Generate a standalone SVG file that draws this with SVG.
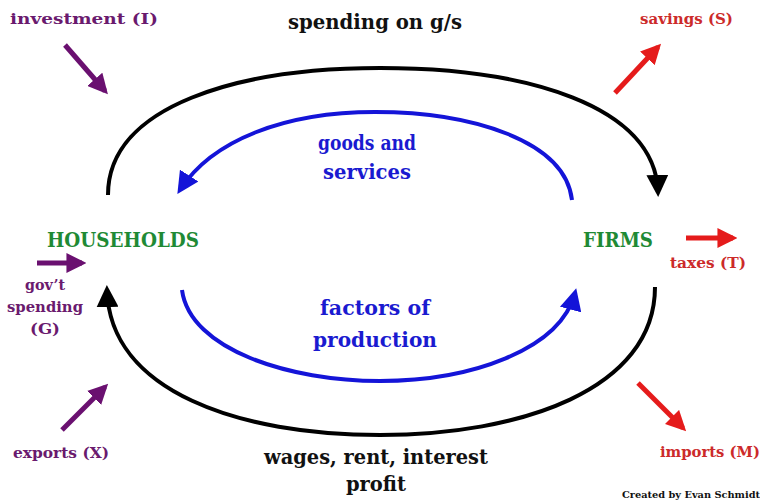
<svg xmlns="http://www.w3.org/2000/svg" width="760" height="503" viewBox="0 0 760 503">
<style>
text{font-family:"DejaVu Serif","Liberation Serif",serif;font-weight:bold}
.lbl{font-size:19.5px;fill:#111}
.node{font-size:19.5px;fill:#1f8a35}
.blue{font-size:19.5px;fill:#1a1ad0}
.pur{font-size:15px;fill:#6a1a6e}
.red{font-size:15px;fill:#cc2a2a}
.blk{fill:none;stroke:#000;stroke-width:4}
.bl{fill:none;stroke:#1414d8;stroke-width:4}
.pa{stroke:#6a1070;stroke-width:5}
.ra{stroke:#e51b1b;stroke-width:5}
</style>
<defs>
<marker id="mk" markerUnits="userSpaceOnUse" markerWidth="22" markerHeight="22" refX="14" refY="9" orient="auto" viewBox="0 0 18 18"><path d="M0,0 L18,9 L0,18 z" fill="#000"/></marker>
<marker id="mb" markerUnits="userSpaceOnUse" markerWidth="22" markerHeight="22" refX="14" refY="9" orient="auto" viewBox="0 0 18 18"><path d="M0,0 L18,9 L0,18 z" fill="#1414d8"/></marker>
<marker id="mp" markerUnits="userSpaceOnUse" markerWidth="20" markerHeight="20" refX="14" refY="9" orient="auto" viewBox="0 0 18 18"><path d="M0,0 L18,9 L0,18 z" fill="#6a1070"/></marker>
<marker id="mr" markerUnits="userSpaceOnUse" markerWidth="20" markerHeight="20" refX="14" refY="9" orient="auto" viewBox="0 0 18 18"><path d="M0,0 L18,9 L0,18 z" fill="#e51b1b"/></marker>
</defs>
<rect width="760" height="503" fill="#fff"/>
<g id="connectors">
<path class="blk" d="M108,195 C108,105 240,68 380,68 C525,68 655,105 658,192" marker-end="url(#mk)"/>
<path class="blk" d="M655,287 C655,390 520,435 380,435 C240,435 110,392 107,290" marker-end="url(#mk)"/>
<path class="bl" d="M572,200 C565,140 470,112 375,112 C285,112 212,140 180,190" marker-end="url(#mb)"/>
<path class="bl" d="M182,290 C190,350 290,381 380,381 C470,381 560,350 575,293" marker-end="url(#mb)"/>
<line class="pa" x1="65" y1="45" x2="105" y2="91" marker-end="url(#mp)"/>
<line class="pa" x1="37" y1="263" x2="82" y2="263" marker-end="url(#mp)"/>
<line class="pa" x1="62" y1="430" x2="105" y2="387" marker-end="url(#mp)"/>
<line class="ra" x1="615" y1="93" x2="658" y2="47" marker-end="url(#mr)"/>
<line class="ra" x1="686" y1="238" x2="733" y2="238" marker-end="url(#mr)"/>
<line class="ra" x1="638" y1="383" x2="683" y2="428" marker-end="url(#mr)"/>
</g>
<g id="households"><text class="node" x="123" y="247" text-anchor="middle" textLength="152" lengthAdjust="spacingAndGlyphs">HOUSEHOLDS</text></g>
<g id="firms"><text class="node" x="618" y="247" text-anchor="middle" textLength="70" lengthAdjust="spacingAndGlyphs">FIRMS</text></g>
<g id="labels">
<text class="lbl" x="375" y="29" text-anchor="middle" textLength="174" lengthAdjust="spacingAndGlyphs">spending on g/s</text>
<text class="blue" x="367" y="150" text-anchor="middle" textLength="98" lengthAdjust="spacingAndGlyphs">goods and</text>
<text class="blue" x="367" y="179" text-anchor="middle" textLength="88" lengthAdjust="spacingAndGlyphs">services</text>
<text class="blue" x="375" y="315" text-anchor="middle" textLength="110" lengthAdjust="spacingAndGlyphs">factors of</text>
<text class="blue" x="375" y="347" text-anchor="middle" textLength="124" lengthAdjust="spacingAndGlyphs">production</text>
<text class="lbl" x="376" y="464" text-anchor="middle" textLength="224" lengthAdjust="spacingAndGlyphs">wages, rent, interest</text>
<text class="lbl" x="376" y="491" text-anchor="middle" textLength="60" lengthAdjust="spacingAndGlyphs">profit</text>
<text class="pur" x="10" y="24" textLength="148" lengthAdjust="spacingAndGlyphs">investment (I)</text>
<text class="pur" x="45" y="290" text-anchor="middle" textLength="40" lengthAdjust="spacingAndGlyphs">gov’t</text>
<text class="pur" x="45" y="312" text-anchor="middle" textLength="76" lengthAdjust="spacingAndGlyphs">spending</text>
<text class="pur" x="45" y="334" text-anchor="middle" textLength="30" lengthAdjust="spacingAndGlyphs">(G)</text>
<text class="pur" x="13" y="458" textLength="96" lengthAdjust="spacingAndGlyphs">exports (X)</text>
<text class="red" x="640" y="24" textLength="93" lengthAdjust="spacingAndGlyphs">savings (S)</text>
<text class="red" x="708" y="268" text-anchor="middle" textLength="76" lengthAdjust="spacingAndGlyphs">taxes (T)</text>
<text class="red" x="660" y="457" textLength="100" lengthAdjust="spacingAndGlyphs">imports (M)</text>
<text x="622" y="498" style="font-size:9.5px;fill:#111" textLength="138" lengthAdjust="spacingAndGlyphs">Created by Evan Schmidt</text>
</g>
</svg>
